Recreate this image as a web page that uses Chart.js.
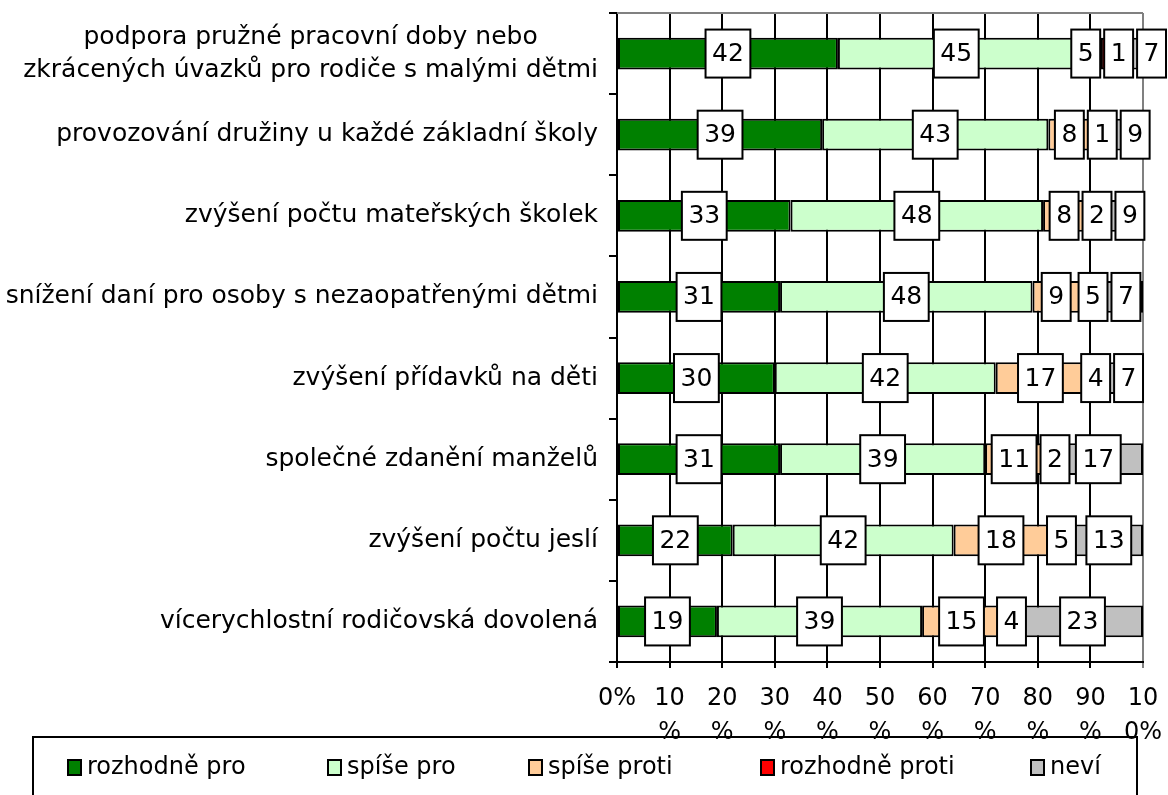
<!DOCTYPE html>
<html>
<head>
<meta charset="utf-8">
<script src="https://cdn.jsdelivr.net/npm/chart.js@4/dist/chart.umd.min.js"></script>
<style>
    html, body { margin: 0; padding: 0; background: #fff; }
</style>
</head>
<body>
<canvas id="graf" width="1168" height="795"></canvas>
<script>
// ======================== DATA ========================
const kategorie = [
    ['podpora pružné pracovní doby nebo', 'zkrácených úvazků pro rodiče s malými dětmi'],
    'provozování družiny u každé základní školy',
    'zvýšení počtu mateřských školek',
    'snížení daní pro osoby s nezaopatřenými dětmi',
    'zvýšení přídavků na děti',
    'společné zdanění manželů',
    'zvýšení počtu jeslí',
    'vícerychlostní rodičovská dovolená',
];
const rozhodnePro = [42, 39, 33, 31, 30, 31, 22, 19];
const spisePro = [45, 43, 48, 48, 42, 39, 42, 39];
const spiseProti = [5, 8, 8, 9, 17, 11, 18, 15];
const rozhodneProti = [1, 1, 2, 5, 4, 2, 5, 4];
const nevi = [7, 9, 9, 7, 7, 17, 13, 23];
const popiskyX = ['0%', ['10', '%'], ['20', '%'], ['30', '%'], ['40', '%'], ['50', '%'],
    ['60', '%'], ['70', '%'], ['80', '%'], ['90', '%'], ['10', '0%']];

const FONT = '"DejaVu Sans", Verdana, sans-serif';

// ======================== PLUGINY ========================
// horní šedý okraj plochy grafu
const horniOkraj = {
    id: 'horniOkraj',
    beforeDatasetsDraw(chart) {
        const { ctx, chartArea: a } = chart;
        ctx.save();
        ctx.strokeStyle = '#808080';
        ctx.lineWidth = 2;
        ctx.beginPath();
        ctx.moveTo(a.left, a.top);
        ctx.lineTo(a.right, a.top);
        ctx.stroke();
        ctx.restore();
    },
};

// popisky kategorií (víceřádkové centrované jako v Excelu)
const popiskyKategorii = {
    id: 'popiskyKategorii',
    afterDraw(chart) {
        const { ctx } = chart;
        const osa = chart.scales.y;
        ctx.save();
        ctx.font = '25px ' + FONT;
        ctx.fillStyle = '#000';
        ctx.textAlign = 'center';
        ctx.textBaseline = 'middle';
        const pravy = osa.right - 19;
        chart.data.labels.forEach((lbl, i) => {
            const radky = Array.isArray(lbl) ? lbl : [lbl];
            const maxW = Math.max(...radky.map((r) => ctx.measureText(r).width));
            const y = osa.getPixelForTick(i);
            radky.forEach((r, k) => {
                ctx.fillText(r, pravy - maxW / 2, y + (k - (radky.length - 1) / 2) * 33);
            });
        });
        ctx.restore();
    },
};

// hodnoty v bílých rámečcích
const popiskyHodnot = {
    id: 'popiskyHodnot',
    afterDatasetsDraw(chart) {
        const { ctx } = chart;
        const maxX = chart.width - 2;
        ctx.save();
        ctx.font = '25px ' + FONT;
        ctx.textAlign = 'center';
        ctx.textBaseline = 'middle';
        chart.data.labels.forEach((_, i) => {
            const boxy = chart.data.datasets.map((ds, d) => {
                const el = chart.getDatasetMeta(d).data[i];
                const text = String(ds.data[i]);
                return { text, x: (el.x + el.base) / 2, y: el.y, w: ctx.measureText(text).width + 13 };
            });
            // posun doprava při překryvu
            for (let j = 1; j < boxy.length; j++) {
                const a = boxy[j - 1], b = boxy[j];
                const prekryv = a.x + a.w / 2 + 4 - (b.x - b.w / 2);
                if (prekryv > 0) b.x += prekryv;
            }
            // nesmí přetéct přes okraj
            for (let j = boxy.length - 1; j >= 0; j--) {
                const b = boxy[j];
                const limit = j === boxy.length - 1 ? maxX : boxy[j + 1].x - boxy[j + 1].w / 2 - 4;
                if (b.x + b.w / 2 > limit) b.x = limit - b.w / 2;
            }
            boxy.forEach((b) => {
                ctx.fillStyle = '#fff';
                ctx.fillRect(b.x - b.w / 2, b.y - 24, b.w, 48);
                ctx.strokeStyle = '#000';
                ctx.lineWidth = 2;
                ctx.strokeRect(b.x - b.w / 2, b.y - 24, b.w, 48);
                ctx.fillStyle = '#000';
                ctx.fillText(b.text, b.x, b.y + 1);
            });
        });
        ctx.restore();
    },
};

// legenda v rámečku dole
const legenda = {
    id: 'legenda',
    afterDraw(chart) {
        const { ctx } = chart;
        const xs = [68, 328, 529, 761, 1031];
        ctx.save();
        ctx.strokeStyle = '#000';
        ctx.lineWidth = 2;
        ctx.strokeRect(33, 737, 1104, 90);
        ctx.font = '24px ' + FONT;
        ctx.textBaseline = 'middle';
        chart.data.datasets.forEach((ds, i) => {
            ctx.fillStyle = ds.backgroundColor;
            ctx.fillRect(xs[i], 760, 13, 15);
            ctx.strokeRect(xs[i], 760, 13, 15);
            ctx.fillStyle = '#000';
            ctx.fillText(ds.label, xs[i] + 19, 768);
        });
        ctx.restore();
    },
};

// ======================== GRAF ========================
const sada = (label, data, barva) => ({
    label,
    data,
    backgroundColor: barva,
    borderColor: '#000',
    borderWidth: 2,
    borderSkipped: false,
    barPercentage: 0.39,
    categoryPercentage: 1,
});

new Chart(document.getElementById('graf'), {
    type: 'bar',
    data: {
        labels: kategorie,
        datasets: [
            sada('rozhodně pro', rozhodnePro, '#008000'),
            sada('spíše pro', spisePro, '#ccffcc'),
            sada('spíše proti', spiseProti, '#ffcc99'),
            sada('rozhodně proti', rozhodneProti, '#ff0000'),
            sada('neví', nevi, '#c0c0c0'),
        ],
    },
    options: {
        indexAxis: 'y',
        responsive: false,
        animation: false,
        layout: { padding: { top: 13, right: 25, left: 0, bottom: 0 } },
        plugins: {
            legend: { display: false },
            tooltip: { enabled: false },
        },
        scales: {
            x: {
                stacked: true,
                min: 0,
                max: 100,
                afterFit: (s) => {
                    s.height = 133;
                    s.paddingLeft = 0;
                    s.paddingRight = 0;
                },
                ticks: {
                    stepSize: 10,
                    autoSkip: false,
                    maxRotation: 0,
                    color: '#000',
                    padding: 14,
                    font: { family: FONT, size: 24, lineHeight: 1.4 },
                    callback: (v) => popiskyX[v / 10],
                },
                grid: {
                    color: (c) => (c.tick && c.tick.value === 100 ? '#808080' : '#000'),
                    lineWidth: 2,
                    tickLength: 6,
                },
                border: { color: '#000', width: 2 },
            },
            y: {
                stacked: true,
                afterFit: (s) => { s.width = 617; },
                ticks: { display: false },
                grid: {
                    offset: true,
                    drawOnChartArea: false,
                    color: '#000',
                    lineWidth: 2,
                    tickLength: 8,
                },
                border: { color: '#000', width: 2 },
            },
        },
    },
    plugins: [horniOkraj, popiskyHodnot, popiskyKategorii, legenda],
});
</script>
</body>
</html>
